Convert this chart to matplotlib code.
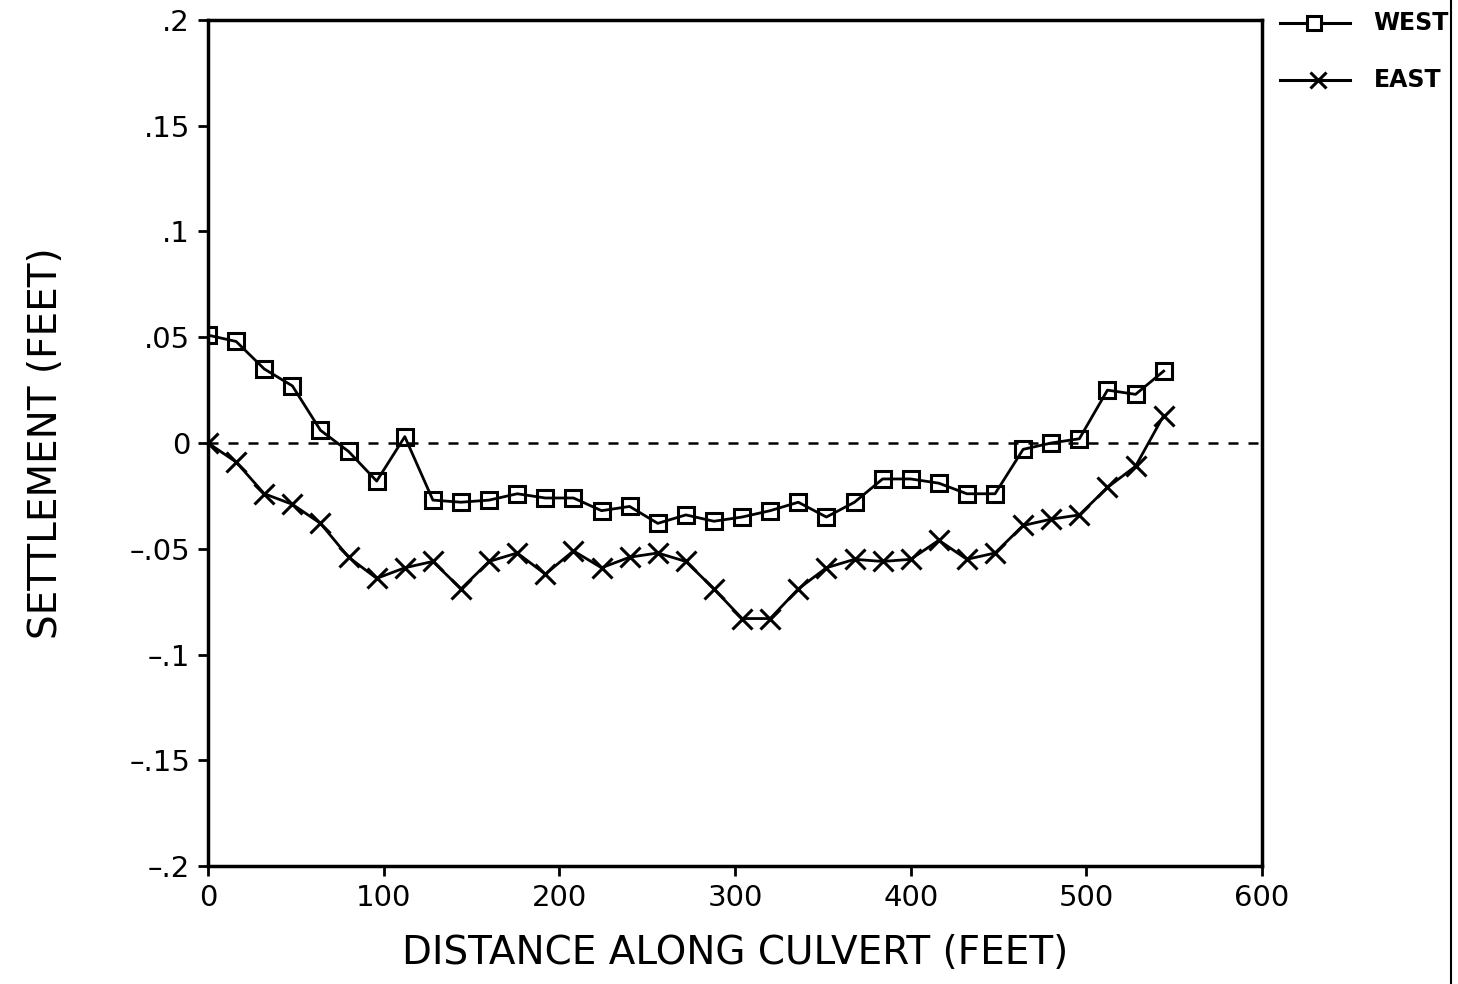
import matplotlib
matplotlib.use("Agg")
import matplotlib.pyplot as plt
from matplotlib.lines import Line2D

distance = [0, 16, 32, 48, 64, 80, 96, 112, 128, 144, 160, 176, 192, 208, 224, 240,
            256, 272, 288, 304, 320, 336, 352, 368, 384, 400, 416, 432, 448, 464, 480,
            496, 512, 528, 544]
west = [0.051, 0.048, 0.035, 0.027, 0.006, -0.004, -0.018, 0.003, -0.027, -0.028,
        -0.027, -0.024, -0.026, -0.026, -0.032, -0.030, -0.038, -0.034, -0.037, -0.035,
        -0.032, -0.028, -0.035, -0.028, -0.017, -0.017, -0.019, -0.024, -0.024, -0.003,
        0.000, 0.002, 0.025, 0.023, 0.034]
east = [0.000, -0.009, -0.024, -0.029, -0.038, -0.054, -0.064, -0.059, -0.056, -0.069,
        -0.056, -0.052, -0.062, -0.051, -0.059, -0.054, -0.052, -0.056, -0.069, -0.083,
        -0.083, -0.069, -0.059, -0.055, -0.056, -0.055, -0.046, -0.055, -0.052, -0.039,
        -0.036, -0.034, -0.021, -0.011, 0.013]
series_names = ["WEST", "EAST"]
x_ticks = [0, 100, 200, 300, 400, 500, 600]
x_labels = ["0", "100", "200", "300", "400", "500", "600"]
y_ticks = [-0.2, -0.15, -0.1, -0.05, 0, 0.05, 0.1, 0.15, 0.2]
y_labels = ["\u2013.2", "\u2013.15", "\u2013.1", "\u2013.05", "0", ".05", ".1", ".15", ".2"]

plt.rcParams['font.family'] = ['DejaVu Sans']
fig = plt.figure(figsize=(14.58, 9.84), dpi=100)
ax = fig.add_axes([0.1427, 0.1199, 0.7229, 0.8598])

ax.plot([0, 600], [0, 0], color='black', linestyle=(0, (4, 4)), linewidth=1.8)
ax.plot(distance, west, color='black', linewidth=2, marker='s', markersize=12,
        markerfacecolor='none', markeredgewidth=2.2)
ax.plot(distance, east, color='black', linewidth=2, marker='x', markersize=14,
        markeredgewidth=2.2)

ax.set_xlim(0, 600)
ax.set_ylim(-0.2, 0.2)
ax.set_xticks(x_ticks)
ax.set_xticklabels(x_labels)
ax.set_yticks(y_ticks)
ax.set_yticklabels(y_labels)
ax.tick_params(axis='both', direction='out', length=7, width=2, labelsize=21, pad=6)
for s in ax.spines.values():
    s.set_linewidth(2.5)
ax.set_xlabel("DISTANCE ALONG CULVERT (FEET)", fontsize=28, labelpad=16)
ax.set_ylabel("SETTLEMENT (FEET)", fontsize=28, labelpad=46)

# legend drawn manually outside the axes (top right)
leg_y = [0.977, 0.919]
for name, y, mk, ms in [(series_names[0], leg_y[0], 's', 10), (series_names[1], leg_y[1], 'x', 11)]:
    fig.add_artist(Line2D([0.878, 0.926], [y, y], color='black', linewidth=2.2,
                          transform=fig.transFigure))
    fig.add_artist(Line2D([0.901 if mk == 's' else 0.904], [y], color='black',
                          marker=mk, markersize=ms, markerfacecolor='white',
                          markeredgewidth=2.2, transform=fig.transFigure))
    fig.text(0.942, y, name, fontsize=17, fontweight='bold', ha='left', va='center',
             transform=fig.transFigure)

fig.add_artist(Line2D([0.9955, 0.9955], [0.0, 1.0], color='black', linewidth=1.5,
                      transform=fig.transFigure))

fig.savefig("out.png", dpi=100)
